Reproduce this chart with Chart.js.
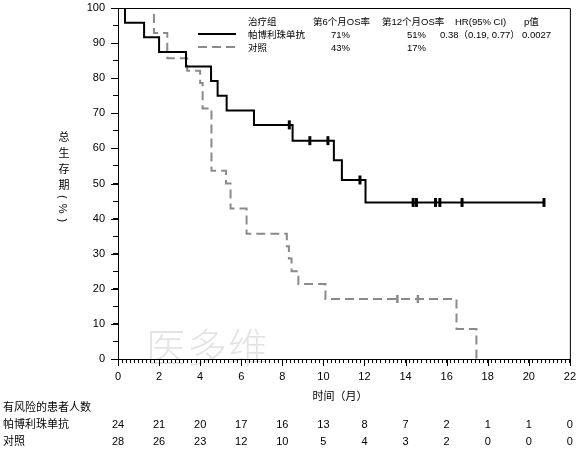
<!DOCTYPE html>
<html lang="zh">
<head>
<meta charset="UTF-8">
<title>总生存期</title>
<style>
  body { margin: 0; background: #fff; }
  #wrap { position: relative; width: 583px; height: 450px; font-family: "Liberation Sans", "Noto Sans CJK SC", sans-serif; color: #000; }
  #c { position: absolute; left: 0; top: 0; }
  .t { position: absolute; white-space: nowrap; line-height: 1; }
  .leg { font-size: 9.5px; }
  .risk { font-size: 11px; }
  .num { transform: translateX(-50%); }
  #ytitle { left: 57px; top: 131px; writing-mode: vertical-rl; text-orientation: mixed; font-size: 11px; letter-spacing: 5px; }
  #wm { left: 146px; top: 328px; font-size: 40px; color: rgba(0,0,0,0.11); letter-spacing: 1px; font-weight: 300; }
</style>
</head>
<body>
<div id="wrap">
  <canvas id="c" width="583" height="450"></canvas>

  <!-- legend table -->
  <div class="t leg" style="left:248px;top:17px">治疗组</div>
  <div class="t leg" style="left:313px;top:17px">第6个月OS率</div>
  <div class="t leg" style="left:382px;top:17px">第12个月OS率</div>
  <div class="t leg" style="left:455px;top:17px">HR(95% CI)</div>
  <div class="t leg" style="left:524px;top:17px">p值</div>
  <svg class="t" style="left:198px;top:28px" width="40" height="30">
    <line x1="0" y1="6" x2="38" y2="6" stroke="#000" stroke-width="2"/>
    <line x1="0" y1="19" x2="38" y2="19" stroke="#8a8a8a" stroke-width="2" stroke-dasharray="9,5"/>
  </svg>
  <div class="t leg" style="left:248px;top:30px">帕博利珠单抗</div>
  <div class="t leg" style="left:331px;top:30px">71%</div>
  <div class="t leg" style="left:407px;top:30px">51%</div>
  <div class="t leg" style="left:440px;top:30px">0.38（0.19, 0.77）</div>
  <div class="t leg" style="left:522px;top:30px">0.0027</div>
  <div class="t leg" style="left:248px;top:43px">对照</div>
  <div class="t leg" style="left:331px;top:43px">43%</div>
  <div class="t leg" style="left:407px;top:43px">17%</div>

  <div class="t" id="ytitle">总生存期(%)</div>
  <div class="t risk" style="left:340px;top:391px;transform:translateX(-50%)">时间（月）</div>
  <div class="t" id="wm">医多维</div>

  <div class="t risk" style="left:3px;top:402px">有风险的患者人数</div>
  <div class="t risk" style="left:3px;top:419px">帕博利珠单抗</div>
  <div class="t risk" style="left:3px;top:436px">对照</div>
  <div id="riskRows"></div>
</div>

<script src="https://cdn.jsdelivr.net/npm/chart.js"></script>
<script>
  // Kaplan-Meier steps (months, % survival)
  var treatTime = [0, 0.34, 1.27, 2.0, 3.31, 4.53, 4.85, 5.29, 6.62, 8.5, 10.51, 10.9, 12.05, 20.74];
  var treatSurv = [100, 95.8, 91.7, 87.5, 83.3, 79.2, 75.0, 70.8, 66.7, 62.2, 56.6, 51.0, 44.6, 44.6];
  var treatCensTime = [8.34, 9.34, 10.22, 11.78, 14.37, 14.53, 15.46, 15.67, 16.75, 20.74];
  var treatCensSurv = [66.7, 62.2, 62.2, 51.0, 44.6, 44.6, 44.6, 44.6, 44.6, 44.6];

  var ctrlTime = [0, 1.75, 2.4, 3.37, 4.0, 4.12, 4.55, 5.26, 5.48, 6.26, 8.22, 8.32, 8.45, 8.78, 10.1, 16.48, 17.45];
  var ctrlSurv = [100, 92.9, 85.7, 82.1, 78.6, 71.4, 53.6, 50.0, 42.9, 35.7, 32.1, 28.6, 25.0, 21.4, 17.1, 8.55, 0];
  var ctrlCensTime = [13.6, 14.6];
  var ctrlCensSurv = [17.1, 17.1];

  // number at risk
  var riskTimes = [0, 2, 4, 6, 8, 10, 12, 14, 16, 18, 20, 22];
  var riskTreat = [24, 21, 20, 17, 16, 13, 8, 7, 2, 1, 1, 0];
  var riskCtrl  = [28, 26, 23, 12, 10, 5, 4, 3, 2, 0, 0, 0];

  function pts(xs, ys) {
    return xs.map(function (x, i) { return { x: x, y: ys[i] }; });
  }

  function isMult(v, m) {
    return Math.abs(v / m - Math.round(v / m)) < 1e-6;
  }

  // frame + longer major ticks
  var framePlugin = {
    id: "frame",
    afterDraw: function (chart) {
      var ctx = chart.ctx, a = chart.chartArea;
      var sx = chart.scales.x, sy = chart.scales.y;
      ctx.save();
      ctx.strokeStyle = "#000";
      ctx.lineWidth = 1;
      ctx.beginPath();
      ctx.moveTo(a.left, a.top + 0.5);
      ctx.lineTo(a.right + 0.5, a.top + 0.5);
      ctx.lineTo(a.right + 0.5, a.bottom);
      ctx.stroke();
      ctx.beginPath();
      for (var t = 0; t <= 22; t += 2) {
        var px = Math.round(sx.getPixelForValue(t)) + 0.5;
        ctx.moveTo(px, a.bottom);
        ctx.lineTo(px, a.bottom + 7);
      }
      for (var v = 0; v <= 100; v += 10) {
        var py = Math.round(sy.getPixelForValue(v)) + 0.5;
        ctx.moveTo(a.left, py);
        ctx.lineTo(a.left - 7, py);
      }
      ctx.stroke();
      ctx.restore();
    }
  };

  var chart = new Chart(document.getElementById("c"), {
    type: "scatter",
    data: {
      datasets: [
        {
          data: pts(treatTime, treatSurv),
          showLine: true,
          stepped: true,
          borderColor: "#000",
          borderWidth: 2,
          pointRadius: 0
        },
        {
          data: pts(ctrlTime, ctrlSurv),
          showLine: true,
          stepped: true,
          borderColor: "#8a8a8a",
          borderWidth: 2,
          borderDash: [9, 5],
          pointRadius: 0
        },
        {
          data: pts(treatCensTime, treatCensSurv),
          pointStyle: "line",
          rotation: 90,
          pointRadius: 4.5,
          borderColor: "#000",
          borderWidth: 3
        },
        {
          data: pts(ctrlCensTime, ctrlCensSurv),
          pointStyle: "line",
          rotation: 90,
          pointRadius: 4,
          borderColor: "#8a8a8a",
          borderWidth: 2.5
        }
      ]
    },
    options: {
      responsive: false,
      animation: false,
      layout: { padding: { left: 0, right: 12, top: 8, bottom: 0 } },
      plugins: { legend: { display: false }, tooltip: { enabled: false } },
      scales: {
        x: {
          type: "linear",
          min: 0,
          max: 22,
          afterFit: function (s) { s.height = 91; },
          border: { color: "#000", width: 1 },
          grid: { drawOnChartArea: false, tickLength: 4, color: "#000" },
          ticks: {
            stepSize: 0.2,
            autoSkip: false,
            maxRotation: 0,
            padding: 7,
            color: "#000",
            font: { family: "Liberation Sans", size: 11 },
            callback: function (v) { return isMult(v, 2) ? String(Math.round(v)) : ""; }
          }
        },
        y: {
          min: 0,
          max: 100,
          afterFit: function (s) { s.width = 118; s.paddingTop = 0; s.paddingBottom = 0; },
          border: { color: "#000", width: 1 },
          grid: { drawOnChartArea: false, tickLength: 5, color: "#000" },
          ticks: {
            stepSize: 5,
            autoSkip: false,
            padding: 8,
            color: "#000",
            font: { family: "Liberation Sans", size: 11 },
            callback: function (v) { return isMult(v, 10) ? String(v) : ""; }
          }
        }
      }
    },
    plugins: [framePlugin]
  });

  // at-risk numbers under the x ticks
  var rows = document.getElementById("riskRows");
  riskTimes.forEach(function (t, i) {
    var px = chart.scales.x.getPixelForValue(t);
    [[riskTreat, 419], [riskCtrl, 436]].forEach(function (r) {
      var d = document.createElement("div");
      d.className = "t risk num";
      d.style.left = px + "px";
      d.style.top = r[1] + "px";
      d.textContent = r[0][i];
      rows.appendChild(d);
    });
  });
</script>
</body>
</html>
